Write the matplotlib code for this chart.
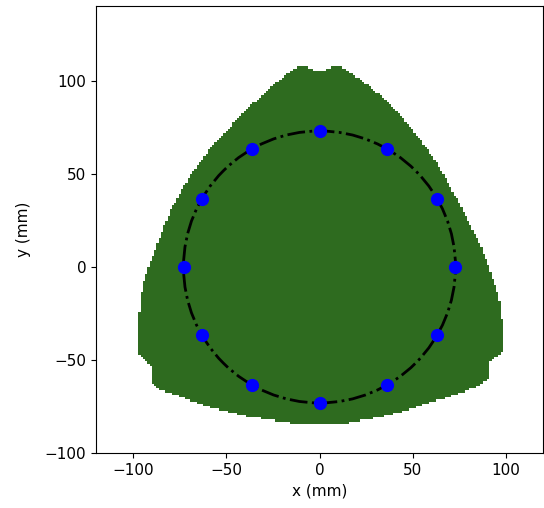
import matplotlib
matplotlib.use("Agg")
import matplotlib.pyplot as plt
import numpy as np
from matplotlib.path import Path
from matplotlib.patches import Circle

# outline of the green region (mm)
outline_x = [-5, -9, -13, -19.5, -30, -41, -51.5, -60, -64.5, -69, -75, -80.5,
             -85, -89.5, -93.5, -95.5, -97, -97.5, -95.5, -90, -90, -86,
             -75, -63.5, -50.5, -41, -14.5, 14.5, 25.5, 42.5, 59, 74,
             85, 91, 91, 98, 98, 96.5, 92.5, 89, 83.5, 78,
             72, 66.5, 61, 51.5, 42.5, 31.5, 20, 14, 9.5, 5, 0]
outline_y = [106.5, 108, 106.5, 102, 93, 82.5, 71.5, 62, 55.5, 50, 39.5, 29,
             18, 5.5, -5, -14, -28.5, -46, -48, -53.5, -62, -66,
             -69.5, -74, -77.5, -80, -84, -84, -82, -78.5, -73, -68.5,
             -64, -60.5, -51.5, -46, -30, -17.5, -5, 5.5, 18, 29,
             39.5, 50, 59, 71.5, 82.5, 93, 102, 106, 108, 106.5, 104.5]

# sensor positions on the ring (mm)
sensor_x = [73, 63.2, 36.5, 0, -36.5, -63.2, -73, -63.2, -36.5, 0, 36.5, 63.2]
sensor_y = [0, 36.5, 63.2, 73, 63.2, 36.5, 0, -36.5, -63.2, -73, -63.2, -36.5]
ring_radius = 73

cell = 1.2  # pixel size of the region map (mm)

fig = plt.figure(figsize=(5.44, 5.08), dpi=100)
ax = fig.add_axes([96/544, (508-453.7)/508, 447/544, 448/508])

# rasterise the outline on a grid to get the blocky look
gx = np.arange(-120, 120, cell) + cell/2
gy = np.arange(-100, 140, cell) + cell/2
X, Y = np.meshgrid(gx, gy)
path = Path(np.column_stack([outline_x, outline_y]))
inside = path.contains_points(np.column_stack([X.ravel(), Y.ravel()])).reshape(X.shape)
img = np.zeros(X.shape + (4,))
img[inside] = matplotlib.colors.to_rgba('#2e6b1f')
ax.imshow(img, extent=[gx[0]-cell/2, gx[-1]+cell/2, gy[0]-cell/2, gy[-1]+cell/2],
          origin='lower', interpolation='nearest')

ax.add_patch(Circle((0, 0), ring_radius, fill=False, color='black', linestyle='-.', linewidth=2))
ax.plot(sensor_x, sensor_y, 'o', color='blue', markersize=8.5, linestyle='none')

ax.set_xlim(-120, 120)
ax.set_ylim(-100, 140)
ax.set_aspect('equal')
ax.set_xticks([-100, -50, 0, 50, 100])
ax.set_yticks([-100, -50, 0, 50, 100])
ax.tick_params(labelsize=11)
ax.set_xlabel('x (mm)', fontsize=11)
ax.set_ylabel('y (mm)', fontsize=11, labelpad=10)

fig.savefig('out.png', dpi=100)
